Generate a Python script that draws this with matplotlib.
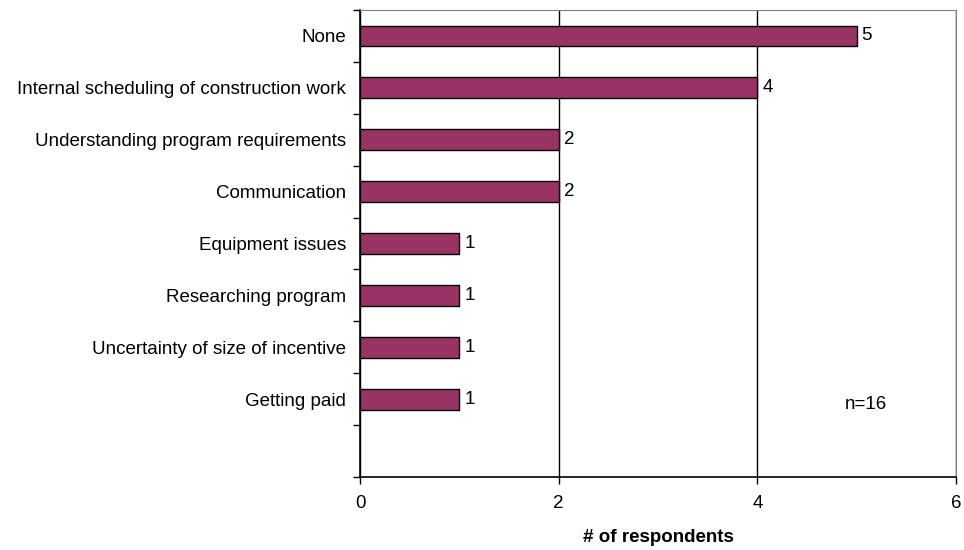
import matplotlib
matplotlib.use("Agg")
import matplotlib.pyplot as plt
import numpy as np

plt.rcParams['font.family'] = ['Liberation Sans', 'DejaVu Sans']

# survey results, top to bottom
issues = ['None', 'Internal scheduling of construction work',
          'Understanding program requirements', 'Communication',
          'Equipment issues', 'Researching program',
          'Uncertainty of size of incentive', 'Getting paid']
counts = [5, 4, 2, 2, 1, 1, 1, 1]
xticks = [0, 2, 4, 6]
note = 'n=16'

fs = 13.5

fig = plt.figure(figsize=(9.64, 5.5), dpi=100)
ax = fig.add_axes([360/964, 1 - 477/550, 596/964, 467/550])

n_slots = len(issues) + 1  # one blank slot below the last bar
ypos = np.arange(len(issues)) + 0.5
ax.barh(ypos, counts, height=0.4, color='#993366', edgecolor='black',
        linewidth=1, zorder=3)

for y, v in zip(ypos, counts):
    ax.text(v + 0.05, y, str(v), va='center', ha='left', fontsize=fs)

ax.set_ylim(n_slots, 0)
ax.set_xlim(0, 6)
ax.set_yticks(ypos)
ax.set_yticklabels(issues, fontsize=fs)
ax.set_yticks(np.arange(n_slots + 1), minor=True)
ax.tick_params(axis='y', which='major', length=0, pad=10)
ax.tick_params(axis='y', which='minor', length=5, width=1, color='black')
ax.set_xticks(xticks)
ax.set_xticklabels([str(t) for t in xticks], fontsize=fs)
ax.tick_params(axis='x', length=5, width=1, pad=8)

ax.grid(axis='x', color='black', linewidth=1, zorder=0)
for side in ['top', 'right']:
    ax.spines[side].set_color('#808080')
for side in ['left', 'bottom']:
    ax.spines[side].set_color('black')
    ax.spines[side].set_linewidth(1.2)

ax.set_xlabel('# of respondents', fontsize=fs, fontweight='bold', labelpad=12)
ax.text(4.88, 7.6, note, fontsize=fs, va='center', ha='left')

fig.savefig('out.png', dpi=100)
